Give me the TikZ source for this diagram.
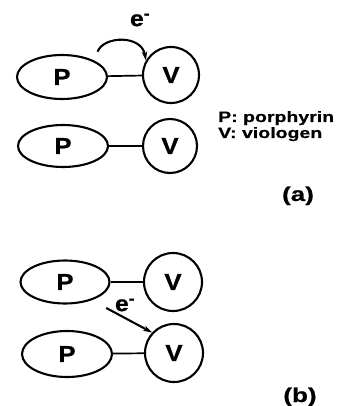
\documentclass[tikz,border=0pt]{standalone}
\usepackage{fontspec}
\usepackage{tikz}
\usetikzlibrary{arrows.meta, positioning, shapes.geometric, calc}
\newfontfamily\lblFont[FakeStretch=1.12, FakeBold=0.8]{Liberation Sans Bold}
\newfontfamily\legFont[FakeStretch=1.3, FakeBold=0.6]{Liberation Sans Bold}
\tikzset{
    porphNode/.style={draw, ellipse, line width=2.1pt, inner sep=0pt,
        minimum width=90pt, minimum height=44pt,
        font=\lblFont\fontsize{23}{23}\selectfont},
    violNode/.style={draw, circle, line width=2.1pt, inner sep=0pt,
        minimum size=56pt, font=\lblFont\fontsize{23}{23}\selectfont},
    linkLine/.style={line width=1.7pt},
    eArrow/.style={line width=2.1pt, -{Stealth[length=9pt, width=5.5pt]}},
    eLabel/.style={inner sep=0pt, font=\lblFont\fontsize{22}{22}\selectfont},
    legendText/.style={anchor=base west, inner sep=0pt,
        font=\legFont\fontsize{15}{16}\selectfont},
    panelTag/.style={anchor=base, inner sep=0pt,
        font=\legFont\fontsize{20}{20}\selectfont},
}

\begin{document}
\begin{tikzpicture}[x=1pt, y=-1pt]
    \useasboundingbox (0,0) rectangle (337,406);

    % PANEL (a): INTRAMOLECULAR
    \node[porphNode] (P1a) at (62,77) {P};
    \node[violNode] (V1a) at (171,75) {V};
    \draw[linkLine] (P1a) -- (V1a);
    \draw[eArrow] ([shift={(3pt,9pt)}]P1a.north east)
        .. controls +(6pt,16pt) and +(-4pt,26pt) .. (V1a.150);
    \node[eLabel] (eA) at (140,20) {e\textsuperscript{-}};

    \node[porphNode, minimum height=42pt] (P2a) at (63,146) {P};
    \node[violNode, minimum size=54pt] (V2a) at (170,146) {V};
    \draw[linkLine] (P2a) -- (V2a);

    \node[legendText] (legP) at (218,122) {P: porphyrin};
    \node[legendText] (legV) at (218,138) {V: viologen};
    \node[panelTag] (tagA) at (298,201) {(a)};

    % PANEL (b): INTERMOLECULAR
    \node[porphNode, minimum width=89pt, minimum height=43pt] (P1b) at (65,282) {P};
    \node[violNode, minimum size=58pt] (V1b) at (173,282) {V};
    \draw[linkLine] (P1b) -- (V1b);

    \node[porphNode, minimum height=46pt] (P2b) at (67,354) {P};
    \node[violNode, minimum size=58pt] (V2b) at (174,353) {V};
    \draw[linkLine] (P2b) -- (V2b);

    \draw[eArrow] ([shift={(9pt,-10pt)}]P1b.south east) -- (V2b.137);
    \node[eLabel] (eB) at (125,305) {e\textsuperscript{-}};
    \node[panelTag] (tagB) at (300,402) {(b)};
\end{tikzpicture}
\end{document}
